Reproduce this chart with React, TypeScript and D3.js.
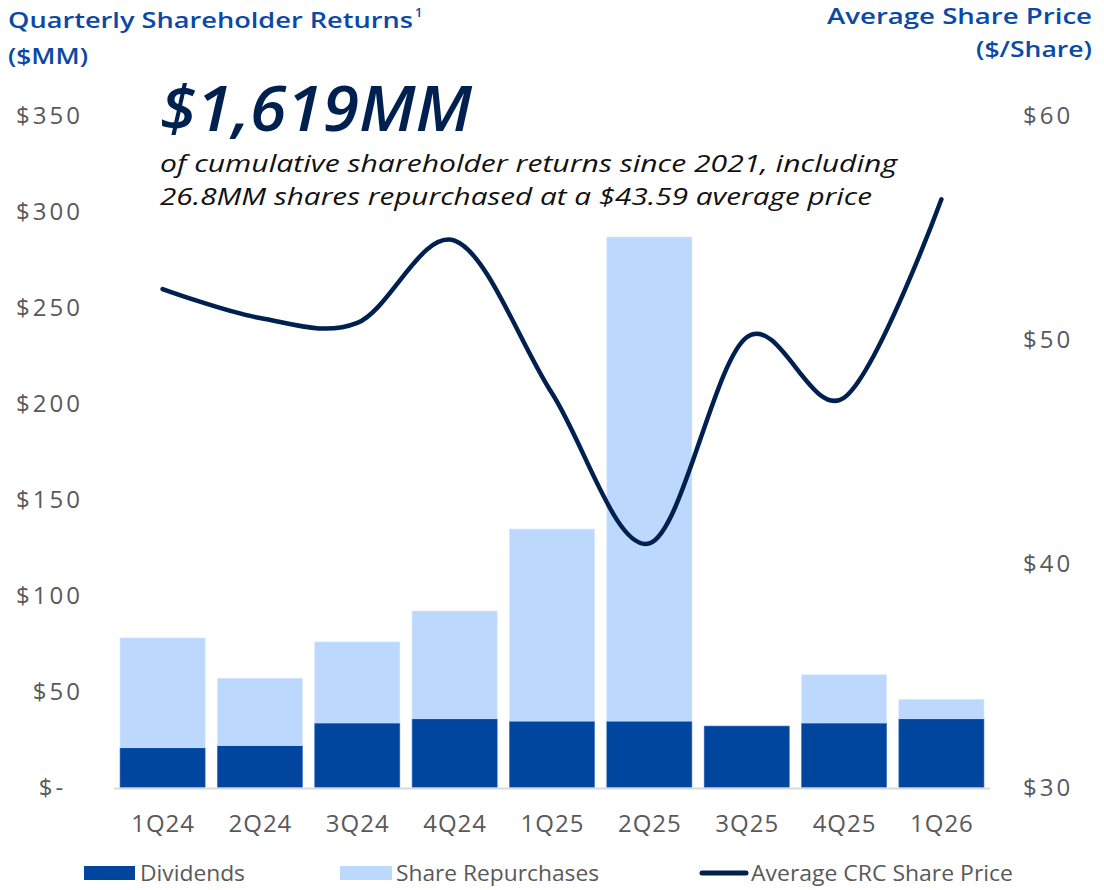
import React from 'react';
import * as d3 from 'd3';

const quarters = ['1Q24', '2Q24', '3Q24', '4Q24', '1Q25', '2Q25', '3Q25', '4Q25', '1Q26'];
const dividends = [20.7, 21.8, 33.6, 35.8, 34.6, 34.6, 32.0, 33.6, 35.8];
const repurchases = [57.2, 35.1, 42.2, 56.1, 100.0, 252.1, 0, 25.1, 10.1];
const sharePrice = [52.25, 50.96, 50.74, 54.41, 47.6, 40.9, 50.1, 47.4, 56.26];
const leftTicks = [0, 50, 100, 150, 200, 250, 300, 350];
const rightTicks = [30, 40, 50, 60];

const W = 1104;
const H = 890;
const FONT = "'Open Sans', 'DejaVu Sans', sans-serif";
const C_DIV = '#00469e';
const C_REP = '#bcd8fd';
const C_LINE = '#00214f';
const C_TITLE = '#0a4aa6';
const C_TICK = '#595959';

export default function App() {
  const x = d3.scaleBand<string>().domain(quarters).range([114, 990]).paddingInner(0.126).paddingOuter(0.062);
  const yL = d3.scaleLinear().domain([0, 350]).range([787.5, 115.5]);
  const yR = d3.scaleLinear().domain([30, 60]).range([787.5, 115.5]);
  const bw = x.bandwidth();

  const line = d3
    .line<number>()
    .x((_, i) => (x(quarters[i]) as number) + bw / 2)
    .y((d) => yR(d))
    .curve(d3.curveCardinal.tension(0));

  const fmtL = (v: number) => (v === 0 ? '$-\u2007' : `$${v}`);

  return (
    <svg width={W} height={H} style={{ position: 'absolute', left: 0, top: 0, background: '#fff' }} fontFamily={FONT}>
      {/* axis titles */}
      <text x={8} y={28} fontSize={22} fill={C_TITLE} fontWeight={600} textLength={405} lengthAdjust="spacingAndGlyphs">
        Quarterly Shareholder Returns
      </text>
      <text x={415} y={17} fontSize={13} fill={C_TITLE} fontWeight={600}>1</text>
      <text x={8} y={64} fontSize={22} fill={C_TITLE} fontWeight={600} textLength={80} lengthAdjust="spacingAndGlyphs">
        ($MM)
      </text>
      <text x={1092} y={24} fontSize={22} fill={C_TITLE} textAnchor="end" fontWeight={600} textLength={265} lengthAdjust="spacingAndGlyphs">
        Average Share Price
      </text>
      <text x={1092} y={57} fontSize={22} fill={C_TITLE} textAnchor="end" fontWeight={600} textLength={116} lengthAdjust="spacingAndGlyphs">
        ($/Share)
      </text>

      {/* left ticks */}
      {leftTicks.map((t) => (
        <text key={`l${t}`} x={83} y={yL(t)} dy="0.36em" fontSize={24} fill={C_TICK} textAnchor="end" letterSpacing={3} style={{ whiteSpace: 'pre' }}>
          {fmtL(t)}
        </text>
      ))}
      {/* right ticks */}
      {rightTicks.map((t) => (
        <text key={`r${t}`} x={1023} y={yR(t)} dy="0.36em" fontSize={24} fill={C_TICK} textAnchor="start" letterSpacing={3}>
          {`$${t}`}
        </text>
      ))}

      {/* bars */}
      {quarters.map((q, i) => {
        const x0 = x(q) as number;
        const d = dividends[i];
        const r = repurchases[i];
        return (
          <g key={q}>
            <rect x={x0} width={bw} y={yL(d)} height={yL(0) - yL(d)} fill={C_DIV} stroke="#3a6fc0" strokeWidth={0.6} />
            {r > 0 && (
              <rect x={x0} width={bw} y={yL(d + r)} height={yL(d) - yL(d + r)} fill={C_REP} stroke="#d6e6fe" strokeWidth={0.6} />
            )}
          </g>
        );
      })}

      {/* baseline */}
      <line x1={114} x2={990} y1={788.5} y2={788.5} stroke="#d9d9d9" strokeWidth={2} />

      {/* share price line */}
      <path d={line(sharePrice) || ''} fill="none" stroke={C_LINE} strokeWidth={4.5} strokeLinecap="round" strokeLinejoin="round" />

      {/* x labels */}
      {quarters.map((q) => (
        <text key={`x${q}`} x={(x(q) as number) + bw / 2 + 0.5} y={832} fontSize={24} fill={C_TICK} textAnchor="middle" letterSpacing={1}>
          {q}
        </text>
      ))}

      {/* headline */}
      <text x={160} y={131} fontSize={64} fontWeight={600} fontStyle="italic" fill={C_LINE} textLength={312} lengthAdjust="spacingAndGlyphs">
        $1,619MM
      </text>
      <text x={160} y={172} fontSize={24} fontWeight={500} fontStyle="italic" fill="#111" textLength={737} lengthAdjust="spacingAndGlyphs">
        of cumulative shareholder returns since 2021, including
      </text>
      <text x={160} y={205} fontSize={24} fontWeight={500} fontStyle="italic" fill="#111" textLength={712} lengthAdjust="spacingAndGlyphs">
        26.8MM shares repurchased at a $43.59 average price
      </text>

      {/* legend */}
      <rect x={84} y={866} width={51} height={14} fill={C_DIV} />
      <text x={140} y={881} fontSize={21} fill={C_TICK} textLength={105} lengthAdjust="spacingAndGlyphs">Dividends</text>
      <rect x={340} y={866} width={52} height={14} fill={C_REP} />
      <text x={396} y={881} fontSize={21} fill={C_TICK} textLength={203} lengthAdjust="spacingAndGlyphs">Share Repurchases</text>
      <line x1={702} x2={746} y1={873} y2={873} stroke={C_LINE} strokeWidth={5} strokeLinecap="round" />
      <text x={751} y={881} fontSize={21} fill={C_TICK} textLength={262} lengthAdjust="spacingAndGlyphs">Average CRC Share Price</text>
    </svg>
  );
}
